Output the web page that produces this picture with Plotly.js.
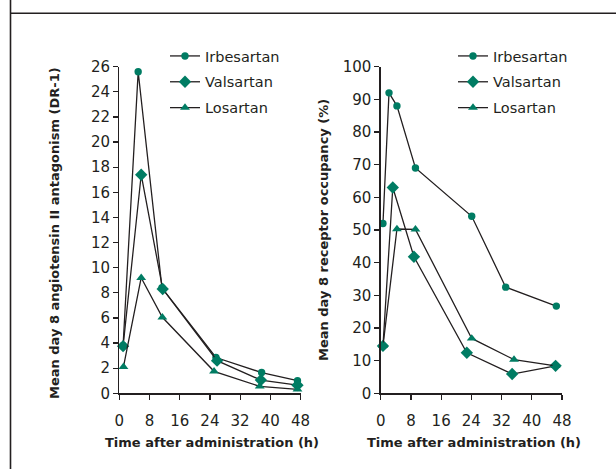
<!DOCTYPE html>
<html><head><meta charset="utf-8">
<script src="https://cdn.plot.ly/plotly-3.0.1.min.js"></script>
<style>html,body{margin:0;padding:0;background:#fff;}#chart{width:616px;height:469px;}</style>
</head><body><div id="chart"></div>
<script>
// Left panel: mean day 8 angiotensin II antagonism (DR-1)
const hoursIrbLeft = [1, 5, 11.3, 25.6, 37.7, 47.2];
const drIrbesartan = [3.8, 25.6, 8.4, 2.85, 1.65, 1.0];
const hoursValLeft = [1, 5.8, 11.5, 25.9, 37.5, 47.2];
const drValsartan = [3.75, 17.4, 8.3, 2.6, 1.05, 0.65];
const hoursLosLeft = [1.1, 5.8, 11.4, 25.1, 37.2, 47.2];
const drLosartan = [2.1, 9.2, 6.05, 1.75, 0.55, 0.32];

// Right panel: mean day 8 receptor occupancy (%)
const hoursIrbRight = [0.6, 2.2, 4.3, 9.2, 24.1, 33.1, 46.5];
const roIrbesartan = [52, 92, 88, 69, 54.2, 32.5, 26.7];
const hoursValRight = [0.6, 3.2, 8.8, 22.8, 34.8, 46.3];
const roValsartan = [14.5, 63, 41.8, 12.4, 5.9, 8.4];
const hoursLosRight = [0.6, 4.3, 9.2, 24.1, 35.3, 46.3];
const roLosartan = [14.5, 50.3, 50.2, 16.8, 10.3, 8.4];

const seriesNames = ['Irbesartan', 'Valsartan', 'Losartan'];
const xTicks = [0, 8, 16, 24, 32, 40, 48];
const leftYTicks = [0,2,4,6,8,10,12,14,16,18,20,22,24,26];
const rightYTicks = [0,10,20,30,40,50,60,70,80,90,100];

const ink = '#231f20';
const teal = '#007c63';
const symbols = ['circle', 'diamond', 'triangle-up'];
const sizes = [7.4, 9.5, 8.6];

function trace(x, y, i, xa, ya, leg) {
  return {
    x: x, y: y, xaxis: xa, yaxis: ya, name: seriesNames[i], legend: leg,
    legendgroup: leg + i, type: 'scatter', mode: 'lines+markers',
    line: {color: ink, width: 1.3},
    marker: {symbol: symbols[i], size: sizes[i], color: teal, line: {width: 0}},
    cliponaxis: false
  };
}

const data = [
  trace(hoursIrbLeft, drIrbesartan, 0, 'x', 'y', 'legend'),
  trace(hoursValLeft, drValsartan, 1, 'x', 'y', 'legend'),
  trace(hoursLosLeft, drLosartan, 2, 'x', 'y', 'legend'),
  trace(hoursIrbRight, roIrbesartan, 0, 'x2', 'y2', 'legend2'),
  trace(hoursValRight, roValsartan, 1, 'x2', 'y2', 'legend2'),
  trace(hoursLosRight, roLosartan, 2, 'x2', 'y2', 'legend2')
];

const W = 616, H = 469;
const fontFam = '"DejaVu Sans", "Noto Sans", sans-serif';
function xAxis(domain) {
  return {domain: domain, range: [0, 48], tickvals: xTicks, ticktext: xTicks.map(String),
    showline: true, linecolor: ink, linewidth: 1.3, ticks: 'outside', ticklen: 5, tickwidth: 1.2,
    tickcolor: ink, showgrid: false, zeroline: false, automargin: false, ticklabelstandoff: 8,
    tickfont: {family: fontFam, size: 15, color: ink}, fixedrange: true};
}
function yAxis(domain, anchor, range, ticks) {
  return {domain: domain, anchor: anchor, range: range, tickvals: ticks, ticktext: ticks.map(String),
    showline: true, linecolor: ink, linewidth: 1.3, ticks: 'outside', ticklen: 5, tickwidth: 1.2,
    tickcolor: ink, showgrid: false, zeroline: false, automargin: false,
    tickfont: {family: fontFam, size: 15, color: ink}, fixedrange: true};
}
const yDom = [(H - 393.3) / H, (H - 66.7) / H];
const titleFont = {family: fontFam, size: 13, color: ink, weight: 'bold'};
const legendFont = {family: fontFam, size: 14.5, color: ink};

const layout = {
  width: W, height: H, margin: {l: 0, r: 0, t: 0, b: 0},
  paper_bgcolor: '#fff', plot_bgcolor: '#fff', showlegend: true,
  font: {family: fontFam, color: ink},
  xaxis: Object.assign(xAxis([119.3 / W, 300.5 / W]), {anchor: 'y'}),
  yaxis: yAxis(yDom, 'x', [0, 26], leftYTicks),
  xaxis2: Object.assign(xAxis([380.7 / W, 562 / W]), {anchor: 'y2'}),
  yaxis2: yAxis(yDom, 'x2', [0, 100], rightYTicks),
  legend: {x: 165 / W, y: (H - 40) / H, xanchor: 'left', yanchor: 'top', bgcolor: 'rgba(0,0,0,0)',
    font: legendFont, traceorder: 'grouped', tracegroupgap: 4, itemwidth: 30},
  legend2: {x: 453 / W, y: (H - 40) / H, xanchor: 'left', yanchor: 'top', bgcolor: 'rgba(0,0,0,0)',
    font: legendFont, traceorder: 'grouped', tracegroupgap: 4, itemwidth: 30},
  annotations: [
    {text: 'Mean day 8 angiotensin II antagonism (DR-1)', xref: 'paper', yref: 'paper',
      x: 54 / W, y: (H - 233) / H, textangle: -90, showarrow: false, font: titleFont,
      xanchor: 'center', yanchor: 'middle'},
    {text: 'Mean day 8 receptor occupancy (%)', xref: 'paper', yref: 'paper',
      x: 323 / W, y: (H - 230) / H, textangle: -90, showarrow: false, font: titleFont,
      xanchor: 'center', yanchor: 'middle'},
    {text: 'Time after administration (h)', xref: 'paper', yref: 'paper',
      x: 212 / W, y: (H - 442) / H, showarrow: false, font: titleFont, xanchor: 'center', yanchor: 'middle'},
    {text: 'Time after administration (h)', xref: 'paper', yref: 'paper',
      x: 474 / W, y: (H - 442) / H, showarrow: false, font: titleFont, xanchor: 'center', yanchor: 'middle'}
  ],
  shapes: [
    {type: 'line', xref: 'paper', yref: 'paper', x0: 10.5 / W, x1: 10.5 / W, y0: 0, y1: 1,
      line: {color: ink, width: 1.6}},
    {type: 'line', xref: 'paper', yref: 'paper', x0: 10.5 / W, x1: 1, y0: (H - 13.2) / H, y1: (H - 13.2) / H,
      line: {color: ink, width: 1.6}}
  ]
};

Plotly.newPlot('chart', data, layout, {displayModeBar: false, staticPlot: true});
</script></body></html>
